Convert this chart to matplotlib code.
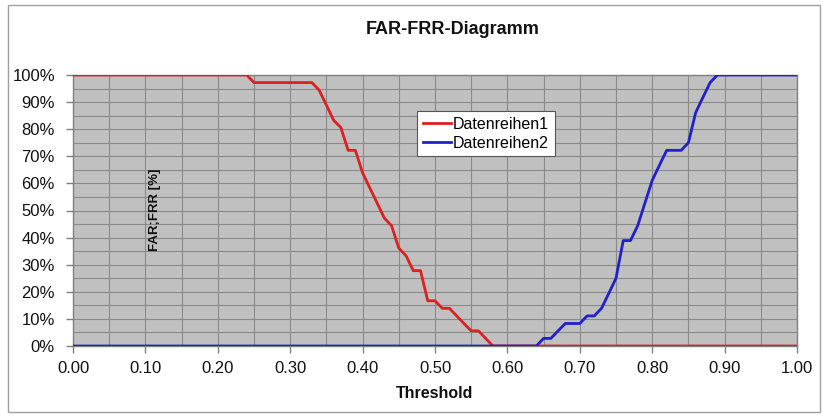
import matplotlib
matplotlib.use("Agg")
import matplotlib.pyplot as plt
from matplotlib.ticker import MultipleLocator, FuncFormatter
from matplotlib.patches import Rectangle
import numpy as np

plt.rcParams['font.family'] = ['Liberation Sans', 'DejaVu Sans']

title = "FAR-FRR-Diagramm"
x_label = "Threshold"
y_label = "FAR;FRR [%]"
series_names = ["Datenreihen1", "Datenreihen2"]

threshold = [round(i * 0.01, 2) for i in range(101)]

frr_part = [97.2] * 9 + [94.4, 88.9, 83.3, 80.6, 72.2, 72.2, 63.9, 58.3, 52.8, 47.2,
            44.4, 36.1, 33.3, 27.8, 27.8, 16.7, 16.7, 13.9, 13.9, 11.1, 8.3, 5.6,
            5.6, 2.8, 0.0]
# 0.00-0.24 -> 100, 0.25-0.33 -> 97.2, ..., 0.58 -> 0, then 0 to 1.00
datenreihen1 = [100.0] * 25 + frr_part + [0.0] * (101 - 25 - len(frr_part))

far_part = [2.8, 2.8, 5.6, 8.3, 8.3, 8.3, 11.1, 11.1, 13.9, 19.4, 25.0, 38.9, 38.9,
            44.4, 52.8, 61.1, 66.7, 72.2, 72.2, 72.2, 75.0, 86.1, 91.7, 97.2]
# 0.00-0.64 -> 0, 0.65-0.88 rising, 0.89-1.00 -> 100
datenreihen2 = [0.0] * 65 + far_part + [100.0] * (101 - 65 - len(far_part))

W, H = 823, 417
fig = plt.figure(figsize=(W / 100, H / 100), dpi=100)
fig.patch.set_facecolor('white')

# outer chart frame
fig.patches.append(Rectangle((8 / W, 1 - 412 / H), (820 - 8) / W, (412 - 5) / H,
                             transform=fig.transFigure, fill=False,
                             edgecolor='#a0a0a0', linewidth=1.0))

ax = fig.add_axes([73 / W, 1 - 346 / H, (797 - 73) / W, (346 - 75) / H])
ax.set_facecolor('#c0c0c0')

ax.plot(threshold, datenreihen1, color='#dd2020', linewidth=2.0, label=series_names[0],
        solid_joinstyle='round', zorder=3)
ax.plot(threshold, datenreihen2, color='#2020cc', linewidth=2.0, label=series_names[1],
        solid_joinstyle='round', zorder=4)

ax.set_xlim(0, 1.0)
ax.set_ylim(0, 100)
ax.xaxis.set_major_locator(MultipleLocator(0.1))
ax.xaxis.set_minor_locator(MultipleLocator(0.05))
ax.yaxis.set_major_locator(MultipleLocator(10))
ax.yaxis.set_minor_locator(MultipleLocator(5))
ax.xaxis.set_major_formatter(FuncFormatter(lambda v, p: f"{v:.2f}"))
ax.yaxis.set_major_formatter(FuncFormatter(lambda v, p: f"{v:.0f}%"))

ax.grid(True, which='both', color='#8a8a8a', linewidth=0.8)
ax.set_axisbelow(True)

ax.tick_params(axis='both', which='major', length=5, width=1, color='#808080',
               labelsize=12, labelcolor='#111111')
ax.tick_params(axis='x', which='major', pad=6)
ax.tick_params(axis='y', which='major', pad=8)
ax.tick_params(axis='both', which='minor', length=0)

for side in ['top', 'right', 'left', 'bottom']:
    ax.spines[side].set_color('#808080')
    ax.spines[side].set_linewidth(1.0)

fig.text(453 / W, 1 - 30 / H, title, ha='center', va='center', fontsize=13,
         fontweight='bold', color='#111111')
fig.text(435 / W, 1 - 394 / H, x_label, ha='center', va='center', fontsize=11.5,
         fontweight='bold', color='#111111')
fig.text(155 / W, 1 - 210 / H, y_label, ha='center', va='center', fontsize=9.5,
         fontweight='bold', rotation=90, color='#111111')

leg = ax.legend(loc='upper left', bbox_to_anchor=((417 - 73) / 724, (346 - 111) / 271),
                fontsize=11.5, frameon=True, fancybox=False, shadow=False,
                handlelength=1.8, handletextpad=0.1, borderpad=0.35,
                labelspacing=0.25, borderaxespad=0)
leg.get_frame().set_edgecolor('#555555')
leg.get_frame().set_linewidth(0.8)
leg.get_frame().set_facecolor('white')
leg.get_frame().set_alpha(1.0)
leg.set_zorder(10)

fig.savefig("out.png", dpi=100)
